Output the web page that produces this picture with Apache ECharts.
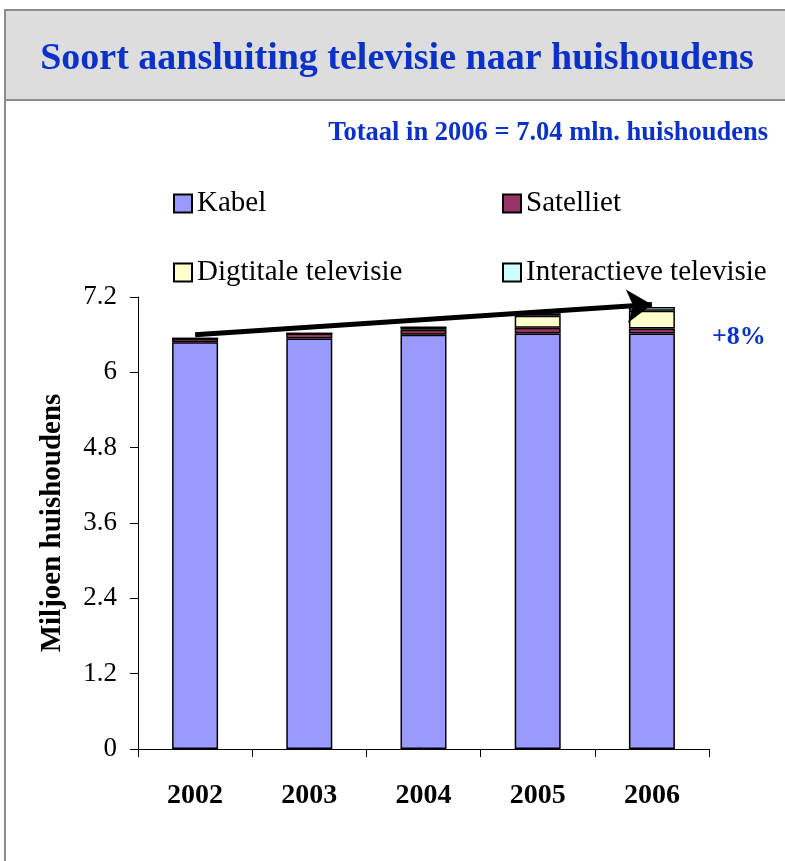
<!DOCTYPE html>
<html>
<head>
<meta charset="utf-8">
<script src="https://cdn.jsdelivr.net/npm/echarts@6/dist/echarts.min.js"></script>
<style>
  html, body { margin: 0; padding: 0; background: #fff; }
  #chart { width: 785px; height: 861px; }
</style>
</head>
<body>
<div id="chart"></div>
<script>
// Television connection type per household, millions
const years = ['2002', '2003', '2004', '2005', '2006'];
const kabel = [6.48, 6.54, 6.60, 6.62, 6.62];
const satelliet = [0.06, 0.08, 0.08, 0.09, 0.08];
const digitaal = [0, 0, 0.04, 0.19, 0.28];
const interactief = [0, 0, 0, 0.04, 0.06];
const yTicks = { min: 0, max: 7.2, interval: 1.2 };

// Trend arrow from the 2002 total towards the 2006 total
const trendStart = ['2002', 6.6];
const trendEnd = ['2006', 7.08];

const serif = '"Liberation Serif", "DejaVu Serif", serif';
const blue = '#0a32c8';

const chart = echarts.init(document.getElementById('chart'));

function barSeries(name, data, color) {
  return {
    name: name,
    type: 'bar',
    stack: 'total',
    barWidth: 46,
    data: data,
    itemStyle: { color: color, borderColor: '#000', borderWidth: 1.5 }
  };
}

function legendAt(name, left, top) {
  return {
    data: [name],
    left: left,
    top: top,
    itemWidth: 18,
    itemHeight: 18,
    icon: 'rect',
    selectedMode: false,
    textStyle: { fontFamily: serif, fontSize: 29, color: '#000' }
  };
}

const series = [
  barSeries('Kabel', kabel, '#9999ff'),
  barSeries('Satelliet', satelliet, '#993366'),
  barSeries('Digtitale televisie', digitaal, '#ffffcc'),
  barSeries('Interactieve televisie', interactief, '#ccffff')
];

series[3].markLine = {
  silent: true,
  symbol: ['none', 'arrow'],
  symbolSize: 25,
  label: { show: false },
  emphasis: { disabled: true },
  lineStyle: { color: '#000', width: 5, type: 'solid', opacity: 1 },
  itemStyle: { color: '#000' },
  z: 10,
  data: [[{ coord: trendStart }, { coord: trendEnd }]]
};

chart.setOption({
  animation: false,
  backgroundColor: '#fff',
  title: [
    {
      text: 'Soort aansluiting televisie naar huishoudens',
      left: 392, top: 35, textAlign: 'center',
      textStyle: { fontFamily: serif, fontSize: 38, fontWeight: 'bold', color: blue }
    },
    {
      text: 'Totaal in 2006 = 7.04 mln. huishoudens',
      right: 12, top: 115,
      textStyle: { fontFamily: serif, fontSize: 26.5, fontWeight: 'bold', color: blue }
    },
    {
      text: '+8%',
      left: 707, top: 319,
      textStyle: { fontFamily: serif, fontSize: 26, fontWeight: 'bold', color: blue }
    }
  ],
  graphic: [
    {
      type: 'rect', silent: true, z: -10,
      shape: { x: 5, y: 10, width: 800, height: 90 },
      style: { fill: '#dddddd', stroke: '#8c8c8c', lineWidth: 2 }
    },
    {
      type: 'line', silent: true, z: -10,
      shape: { x1: 5, y1: 100, x2: 5, y2: 870 },
      style: { stroke: '#8c8c8c', lineWidth: 2 }
    }
  ],
  legend: [
    legendAt('Kabel', 168, 184),
    legendAt('Satelliet', 497, 184),
    legendAt('Digtitale televisie', 168, 253),
    legendAt('Interactieve televisie', 497, 253)
  ],
  grid: { left: 138, right: 76, top: 297, bottom: 112 },
  xAxis: {
    type: 'category',
    data: years,
    axisLine: { lineStyle: { color: '#000', width: 1 } },
    axisTick: { show: true, length: 8, lineStyle: { color: '#000' } },
    axisLabel: { fontFamily: serif, fontSize: 28, fontWeight: 'bold', color: '#000', margin: 33 }
  },
  yAxis: {
    type: 'value',
    min: yTicks.min, max: yTicks.max, interval: yTicks.interval,
    name: 'Miljoen huishoudens',
    nameLocation: 'middle',
    nameGap: 71,
    nameRotate: 90,
    nameTextStyle: { fontFamily: serif, fontSize: 29, fontWeight: 'bold', color: '#000' },
    axisLine: { show: true, lineStyle: { color: '#000', width: 1 } },
    axisTick: { show: true, length: 8, lineStyle: { color: '#000' } },
    splitLine: { show: false },
    axisLabel: { fontFamily: serif, fontSize: 27, color: '#000', margin: 21 }
  },
  series: series
});
</script>
</body>
</html>
